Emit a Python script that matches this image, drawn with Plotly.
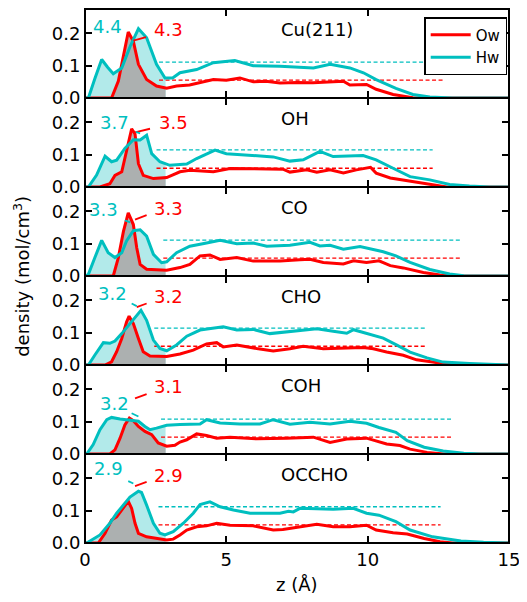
import numpy as np
import plotly.graph_objects as go
from plotly.subplots import make_subplots

# ---------------- data ----------------
panel_names = ["Cu(211)", "OH", "CO", "CHO", "COH", "OCCHO"]

cu_hw_z = [0, 0.12, 0.35, 0.59, 0.8, 1.0, 1.3, 1.6, 1.89, 2.18, 2.53, 2.83, 3.1, 3.36, 3.95, 4.54, 5.3, 5.95, 6.9, 7.5, 8.08, 8.67, 9.37, 9.85, 10.3, 11.0, 11.6, 12.2, 13.0, 15]
cu_hw_d = [0, 0, 0.06, 0.119, 0.095, 0.075, 0.093, 0.16, 0.214, 0.186, 0.104, 0.062, 0.062, 0.078, 0.088, 0.109, 0.116, 0.100, 0.098, 0.096, 0.093, 0.104, 0.093, 0.078, 0.057, 0.030, 0.011, 0.003, 0, 0]
cu_ow_z = [0, 0.94, 1.18, 1.36, 1.53, 1.71, 1.89, 2.18, 2.53, 2.89, 3.24, 3.7, 4.1, 4.54, 5.0, 5.48, 5.95, 6.4, 6.9, 7.5, 8.07, 8.6, 9.14, 9.37, 9.96, 10.3, 10.9, 11.6, 12.0, 15]
cu_ow_d = [0, 0, 0.052, 0.134, 0.204, 0.175, 0.104, 0.057, 0.037, 0.030, 0.037, 0.040, 0.048, 0.057, 0.055, 0.062, 0.050, 0.052, 0.046, 0.048, 0.047, 0.050, 0.052, 0.040, 0.042, 0.027, 0.011, 0.001, 0, 0]

oh_hw_z = [0, 0.12, 0.41, 0.71, 0.94, 1.12, 1.41, 1.71, 1.95, 2.18, 2.36, 2.65, 3.0, 3.6, 3.95, 4.6, 5.0, 5.95, 6.66, 7.25, 7.72, 8.31, 8.78, 9.84, 10.3, 10.9, 11.5, 12.2, 12.9, 13.6, 14.3, 15]
oh_hw_d = [0, 0, 0.037, 0.095, 0.078, 0.083, 0.119, 0.146, 0.145, 0.160, 0.103, 0.078, 0.067, 0.071, 0.088, 0.114, 0.103, 0.098, 0.093, 0.080, 0.084, 0.110, 0.094, 0.097, 0.084, 0.058, 0.032, 0.022, 0.008, 0.003, 0, 0]
oh_ow_z = [0, 0.53, 0.88, 1.06, 1.3, 1.47, 1.65, 1.77, 1.89, 2.06, 2.42, 2.89, 3.36, 3.71, 4.54, 5.13, 6.3, 7.0, 7.25, 7.84, 8.2, 8.67, 9.14, 9.6, 10.1, 10.3, 10.8, 11.6, 12.3, 12.8, 15]
oh_ow_d = [0, 0, 0.010, 0.036, 0.047, 0.114, 0.180, 0.164, 0.072, 0.036, 0.026, 0.029, 0.047, 0.052, 0.047, 0.057, 0.055, 0.055, 0.046, 0.053, 0.046, 0.053, 0.043, 0.053, 0.061, 0.043, 0.028, 0.017, 0.006, 0, 0]

co_hw_z = [0, 0.12, 0.35, 0.59, 0.82, 1.06, 1.3, 1.47, 1.71, 1.95, 2.18, 2.42, 2.71, 2.89, 3.24, 3.71, 4.3, 4.78, 5.37, 5.95, 6.43, 7.25, 7.96, 8.31, 8.67, 9.14, 9.73, 10.1, 10.55, 11.0, 11.5, 12.2, 12.9, 13.4, 15]
co_hw_d = [0, 0.005, 0.057, 0.110, 0.072, 0.057, 0.072, 0.108, 0.140, 0.143, 0.123, 0.067, 0.041, 0.044, 0.072, 0.092, 0.102, 0.110, 0.100, 0.102, 0.092, 0.095, 0.104, 0.093, 0.095, 0.083, 0.091, 0.083, 0.075, 0.062, 0.042, 0.020, 0.006, 0.001, 0]
co_ow_z = [0, 1.0, 1.18, 1.36, 1.53, 1.71, 1.83, 1.95, 2.18, 2.89, 3.36, 3.71, 4.07, 4.42, 4.78, 5.37, 5.95, 6.9, 7.6, 7.96, 8.43, 9.14, 9.5, 9.96, 10.4, 10.8, 11.26, 11.97, 12.56, 13.0, 15]
co_ow_d = [0, 0, 0.057, 0.138, 0.195, 0.159, 0.087, 0.036, 0.021, 0.018, 0.026, 0.036, 0.062, 0.065, 0.051, 0.057, 0.046, 0.046, 0.050, 0.052, 0.042, 0.037, 0.047, 0.042, 0.047, 0.032, 0.025, 0.011, 0.003, 0, 0]

cho_hw_z = [0, 0.12, 0.35, 0.65, 0.88, 1.06, 1.3, 1.59, 1.83, 1.98, 2.18, 2.42, 2.65, 2.89, 3.24, 3.6, 4.07, 4.54, 4.89, 5.37, 5.95, 6.54, 7.37, 8.2, 8.78, 9.26, 9.5, 10.1, 10.55, 11.0, 11.5, 12.1, 12.67, 13.6, 14.56, 15]
cho_hw_d = [0, 0, 0.031, 0.069, 0.067, 0.074, 0.097, 0.128, 0.154, 0.169, 0.138, 0.077, 0.051, 0.044, 0.062, 0.089, 0.108, 0.113, 0.118, 0.108, 0.110, 0.097, 0.105, 0.112, 0.104, 0.098, 0.109, 0.093, 0.083, 0.063, 0.040, 0.022, 0.009, 0.005, 0.002, 0]
cho_ow_z = [0, 0.71, 0.94, 1.12, 1.3, 1.47, 1.56, 1.71, 1.89, 2.06, 2.3, 2.89, 3.36, 3.83, 4.3, 4.66, 4.89, 5.37, 6.07, 6.66, 7.25, 7.72, 8.43, 9.14, 9.84, 10.2, 10.67, 11.26, 11.73, 12.3, 12.67, 13.0, 15]
cho_ow_d = [0, 0, 0.010, 0.041, 0.082, 0.133, 0.151, 0.128, 0.082, 0.041, 0.028, 0.026, 0.034, 0.046, 0.065, 0.069, 0.056, 0.062, 0.051, 0.043, 0.050, 0.058, 0.050, 0.052, 0.054, 0.050, 0.040, 0.030, 0.016, 0.009, 0.005, 0, 0]

coh_hw_z = [0, 0.06, 0.29, 0.53, 0.77, 0.94, 1.24, 1.59, 1.89, 2.12, 2.3, 2.53, 2.89, 3.36, 4.07, 4.3, 4.78, 5.48, 6.19, 6.66, 7.25, 7.96, 8.67, 9.37, 9.96, 10.4, 11.0, 11.4, 12.0, 12.67, 13.4, 14.0, 15]
coh_hw_d = [0, 0, 0.029, 0.075, 0.106, 0.113, 0.108, 0.103, 0.101, 0.085, 0.075, 0.080, 0.089, 0.091, 0.093, 0.106, 0.096, 0.093, 0.093, 0.106, 0.092, 0.098, 0.093, 0.101, 0.095, 0.082, 0.067, 0.041, 0.021, 0.009, 0.002, 0, 0]
coh_ow_z = [0, 0.88, 1.06, 1.24, 1.41, 1.57, 1.71, 1.89, 2.12, 2.36, 2.59, 2.89, 3.18, 3.36, 3.6, 3.95, 4.3, 4.66, 5.13, 6.07, 7.13, 8.08, 8.67, 9.26, 9.96, 10.3, 10.67, 11.14, 11.5, 12.1, 12.7, 15]
coh_ow_d = [0, 0, 0.013, 0.049, 0.090, 0.111, 0.103, 0.085, 0.070, 0.060, 0.034, 0.024, 0.027, 0.037, 0.044, 0.062, 0.057, 0.049, 0.052, 0.047, 0.049, 0.052, 0.036, 0.046, 0.049, 0.041, 0.031, 0.026, 0.015, 0.005, 0, 0]

occho_hw_z = [0, 0.06, 0.53, 0.88, 1.12, 1.36, 1.59, 1.89, 2.0, 2.18, 2.42, 2.65, 2.83, 3.12, 3.48, 3.83, 4.07, 4.42, 4.78, 5.25, 5.84, 6.9, 7.2, 7.37, 7.6, 8.78, 9.49, 9.96, 10.4, 11.0, 11.5, 12.3, 13.3, 14.1, 15]
occho_hw_d = [0, 0, 0.025, 0.061, 0.092, 0.117, 0.142, 0.160, 0.156, 0.117, 0.061, 0.030, 0.025, 0.035, 0.061, 0.092, 0.119, 0.127, 0.112, 0.102, 0.092, 0.092, 0.098, 0.096, 0.107, 0.104, 0.107, 0.092, 0.086, 0.066, 0.040, 0.019, 0.006, 0.002, 0]
occho_ow_z = [0, 0.47, 0.71, 0.94, 1.12, 1.3, 1.41, 1.53, 1.65, 1.77, 1.89, 2.18, 2.89, 3.12, 3.36, 3.6, 3.95, 4.3, 4.66, 5.13, 5.95, 6.66, 7.0, 7.6, 8.2, 8.78, 9.37, 9.96, 10.3, 10.9, 11.4, 12.0, 12.56, 13.0, 15]
occho_ow_d = [0, 0, 0.030, 0.071, 0.081, 0.102, 0.117, 0.129, 0.107, 0.061, 0.030, 0.019, 0.009, 0.012, 0.025, 0.040, 0.050, 0.053, 0.061, 0.055, 0.053, 0.040, 0.042, 0.050, 0.058, 0.050, 0.050, 0.055, 0.040, 0.032, 0.028, 0.014, 0.004, 0, 0]

# bulk densities (dashed lines)
hw_bulk = [0.111, 0.115, 0.111, 0.114, 0.108, 0.112]
ow_bulk = [0.055, 0.058, 0.055, 0.058, 0.052, 0.056]
bulk_start = [2.62, 2.53, 2.77, 2.45, 2.69, 2.6]
bulk_end = [12.7, 12.3, 13.26, 12.06, 12.97, 12.58]

# first-layer integration cutoff (shaded region)
layer_cut = 2.85

# numbers printed on each panel
hw_labels = ["4.4", "3.7", "3.3", "3.2", "3.2", "2.9"]
ow_labels = ["4.3", "3.5", "3.3", "3.2", "3.1", "2.9"]

x_ticks = [0, 5, 10, 15]
y_ticks = [0.0, 0.1, 0.2]
y_tick_text = ["0.0", "0.1", "0.2"]

hw_series = [(cu_hw_z, cu_hw_d), (oh_hw_z, oh_hw_d), (co_hw_z, co_hw_d),
             (cho_hw_z, cho_hw_d), (coh_hw_z, coh_hw_d), (occho_hw_z, occho_hw_d)]
ow_series = [(cu_ow_z, cu_ow_d), (oh_ow_z, oh_ow_d), (co_ow_z, co_ow_d),
             (cho_ow_z, cho_ow_d), (coh_ow_z, coh_ow_d), (occho_ow_z, occho_ow_d)]

# ---------------- styling / placement ----------------
RED = "#ff0000"
CYAN = "#00bfbf"
CYAN_FILL = "rgb(178,234,234)"
GRAY_FILL = "rgb(172,176,176)"
FONT = "DejaVu Sans"

hw_lab_pos = [(0.78, 0.222), (1.03, 0.200), (0.67, 0.205), (0.97, 0.222), (1.03, 0.157), (0.83, 0.230)]
ow_lab_pos = [(2.97, 0.211), (3.12, 0.200), (2.95, 0.210), (2.95, 0.212), (2.95, 0.208), (2.95, 0.209)]
ow_lead = [((1.71, 0.177), (2.16, 0.188)), ((1.77, 0.169), (2.30, 0.180)), ((1.77, 0.174), (2.18, 0.188)),
           ((1.83, 0.179), (2.18, 0.190)), ((1.77, 0.172), (2.18, 0.185)), ((1.77, 0.176), (2.18, 0.189))]
hw_lead = [None, ((1.80, 0.170), (1.95, 0.166)), ((1.41, 0.172), (1.60, 0.166)),
           ((1.65, 0.190), (1.83, 0.182)), ((1.65, 0.126), (1.89, 0.116)), ((1.53, 0.191), (1.71, 0.184))]

YMAX = 0.275


def first_layer(z, d, cut):
    z = np.asarray(z, float)
    d = np.asarray(d, float)
    m = z <= cut
    zz = np.append(z[m], cut)
    dd = np.append(d[m], np.interp(cut, z, d))
    return zz, dd


fig = make_subplots(rows=6, cols=1, shared_xaxes=True, vertical_spacing=0)

for i in range(6):
    r = i + 1
    hz, hd = hw_series[i]
    oz, od = ow_series[i]
    # shaded first layer
    fz, fd = first_layer(hz, hd, layer_cut)
    fig.add_trace(go.Scatter(x=fz, y=fd, mode="lines", line=dict(width=0), fill="tozeroy",
                             fillcolor=CYAN_FILL, showlegend=False, hoverinfo="skip"), row=r, col=1)
    gz, gd = first_layer(oz, od, layer_cut)
    fig.add_trace(go.Scatter(x=gz, y=gd, mode="lines", line=dict(width=0), fill="tozeroy",
                             fillcolor=GRAY_FILL, showlegend=False, hoverinfo="skip"), row=r, col=1)
    # bulk dashed lines
    fig.add_trace(go.Scatter(x=[bulk_start[i], bulk_end[i]], y=[hw_bulk[i], hw_bulk[i]], mode="lines",
                             line=dict(color=CYAN, width=1.3, dash="4px,2.5px"), showlegend=False), row=r, col=1)
    fig.add_trace(go.Scatter(x=[bulk_start[i], bulk_end[i]], y=[ow_bulk[i], ow_bulk[i]], mode="lines",
                             line=dict(color=RED, width=1.3, dash="4px,2.5px"), showlegend=False), row=r, col=1)
    # profiles
    fig.add_trace(go.Scatter(x=oz, y=od, mode="lines", name="Ow", line=dict(color=RED, width=3),
                             showlegend=(i == 0)), row=r, col=1)
    fig.add_trace(go.Scatter(x=hz, y=hd, mode="lines", name="Hw", line=dict(color=CYAN, width=3),
                             showlegend=(i == 0)), row=r, col=1)

    xref = "x" if r == 1 else f"x{r}"
    yref = "y" if r == 1 else f"y{r}"
    # leader marks
    (a, b) = ow_lead[i]
    fig.add_shape(type="line", xref=xref, yref=yref, x0=a[0], y0=a[1], x1=b[0], y1=b[1],
                  line=dict(color=RED, width=1.8))
    if hw_lead[i] is not None:
        (a, b) = hw_lead[i]
        fig.add_shape(type="line", xref=xref, yref=yref, x0=a[0], y0=a[1], x1=b[0], y1=b[1],
                      line=dict(color=CYAN, width=1.8))
    # numbers
    fig.add_annotation(xref=xref, yref=yref, x=hw_lab_pos[i][0], y=hw_lab_pos[i][1], text=hw_labels[i],
                       showarrow=False, font=dict(family=FONT, size=18, color=CYAN),
                       xanchor="center", yanchor="middle")
    fig.add_annotation(xref=xref, yref=yref, x=ow_lab_pos[i][0], y=ow_lab_pos[i][1], text=ow_labels[i],
                       showarrow=False, font=dict(family=FONT, size=18, color=RED),
                       xanchor="center", yanchor="middle")
    # panel name
    fig.add_annotation(xref=xref, yref=yref, x=6.88, y=0.211, text=panel_names[i], showarrow=False,
                       font=dict(family=FONT, size=18, color="black"), xanchor="left", yanchor="middle")

    fig.update_yaxes(range=[0, YMAX], tickvals=y_ticks, ticktext=y_tick_text, ticks="inside",
                     ticklen=7, tickwidth=1.5, tickcolor="black", showline=True, linecolor="black",
                     linewidth=1, mirror="allticks", showgrid=False, zeroline=False,
                     tickfont=dict(family=FONT, size=18, color="black"), row=r, col=1)
    fig.update_xaxes(range=[0, 15], tickvals=x_ticks, ticks="inside", ticklen=7, tickwidth=1.5,
                     tickcolor="black", showline=True, linecolor="black", linewidth=1,
                     mirror="allticks", showgrid=False, zeroline=False,
                     tickfont=dict(family=FONT, size=18, color="black"), row=r, col=1)

fig.update_xaxes(showticklabels=True, row=6, col=1)

# outer frame
fig.add_shape(type="rect", xref="paper", yref="paper", x0=0, y0=0, x1=1, y1=1,
              line=dict(color="black", width=2), fillcolor="rgba(0,0,0,0)", layer="above")

fig.add_annotation(xref="paper", yref="paper", x=-0.149, y=0.5, text="density (mol/cm<sup>3</sup>)",
                   textangle=-90, showarrow=False, font=dict(family=FONT, size=18, color="black"),
                   xanchor="center", yanchor="middle")
fig.add_annotation(xref="paper", yref="paper", x=0.5, y=-0.0785, text="z (Å)", showarrow=False,
                   font=dict(family=FONT, size=18, color="black"), xanchor="center", yanchor="middle")

# the page body adds an 8px offset, so the figure is sized to fit the window
fig.update_layout(
    width=519, height=594,
    margin=dict(l=77, r=18, t=1, b=59),
    paper_bgcolor="white", plot_bgcolor="white",
    font=dict(family=FONT, color="black"),
    legend=dict(x=0.8, y=0.985, xanchor="left", yanchor="top", bgcolor="white",
                bordercolor="black", borderwidth=1.5, font=dict(family=FONT, size=15, color="black"),
                tracegroupgap=2, itemwidth=40),
)

fig.write_html("out.html")
